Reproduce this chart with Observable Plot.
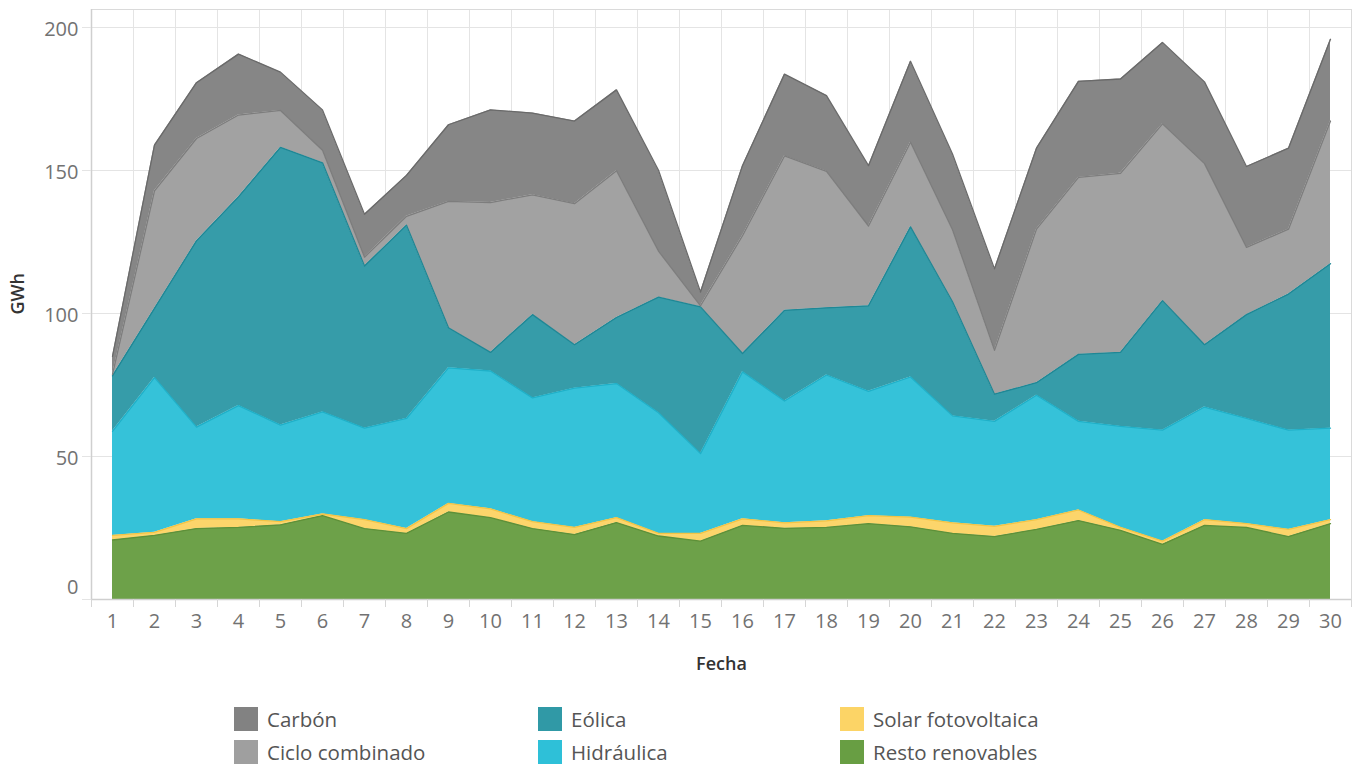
<!DOCTYPE html>
<html>
<head>
<meta charset="utf-8">
<script src="https://cdn.jsdelivr.net/npm/d3@7"></script>
<script src="https://cdn.jsdelivr.net/npm/@observablehq/plot@0.6"></script>
<style>
  html, body { margin: 0; padding: 0; background: #fff; }
  #wrap { position: relative; width: 1358px; height: 765px; font-family: "Open Sans", sans-serif; }
  #legend { position: absolute; left: 234px; top: 707px; display: grid; grid-template-columns: 304px 302px 300px; grid-template-rows: 33px 33px; grid-auto-flow: column; }
  .item { display: flex; align-items: center; height: 24px; font-size: 20.5px; line-height: 1; color: #555; }
  .sw { width: 24px; height: 24px; margin-right: 9px; flex: none; }
</style>
</head>
<body>
<div id="wrap"><div id="chart"></div><div id="legend"></div></div>
<script>
const days = [1,2,3,4,5,6,7,8,9,10,11,12,13,14,15,16,17,18,19,20,21,22,23,24,25,26,27,28,29,30];
const series = ["Resto renovables","Solar fotovoltaica","Hidráulica","Eólica","Ciclo combinado","Carbón"];
const legendOrder = ["Carbón","Ciclo combinado","Eólica","Hidráulica","Solar fotovoltaica","Resto renovables"];
const fills   = ["#689e43","#fcd466","#2ec0d8","#3099a6","#9f9f9f","#828282"];
const strokes = ["#5e9038","#f3c445","#1fb0c8","#1f8795","#7d7d7d","#6a6a6a"];

const resto  = [20.8,22.4,24.8,25.2,26.1,29.3,24.8,23.1,30.6,28.6,24.8,22.7,26.9,22.2,20.4,25.9,24.9,25.2,26.5,25.4,23.1,22.0,24.5,27.6,24.2,19.3,25.9,25.2,22.0,26.5];
const solar  = [1.6,1.1,3.4,3.0,1.1,0.6,3.1,1.7,3.0,3.1,2.4,2.5,1.7,0.9,2.7,2.3,1.9,2.3,2.8,3.4,3.7,3.6,3.4,3.7,1.0,1.1,2.0,1.3,2.5,1.4];
const hidra  = [36.4,54.1,32.1,39.6,33.8,35.7,32.0,38.5,47.4,48.2,43.3,48.7,46.9,42.2,27.9,51.4,42.6,51.0,43.5,49.0,37.4,36.7,43.5,31.0,35.3,38.8,39.4,36.8,34.7,32.0];
const eolica = [19.4,24.2,65.1,73.0,97.1,87.1,56.7,67.6,14.0,6.5,29.1,15.2,23.1,40.4,51.3,6.4,31.7,23.5,29.9,52.5,39.9,9.5,4.4,23.4,25.9,45.3,21.8,36.3,47.6,57.5];
const ciclo  = [0.5,41.1,35.8,28.6,12.9,4.4,3.1,3.1,44.2,52.4,41.9,49.3,51.3,16.1,0.4,41.2,54.0,47.7,27.9,29.6,25.2,15.3,53.7,61.9,62.6,61.8,63.3,23.5,22.7,49.9];
const carbon = [6.3,16.0,19.5,21.3,13.4,14.1,15.0,14.3,26.8,32.4,28.6,28.9,28.3,28.3,4.8,24.5,28.6,26.5,21.1,28.3,26.5,28.5,28.3,33.6,33.0,28.5,28.6,28.3,28.3,28.6];
const yTicks = [0,50,100,150,200];

const values = [resto, solar, hidra, eolica, ciclo, carbon];
const data = [];
series.forEach((s, i) => days.forEach((d, j) => data.push({day: d, series: s, value: values[i][j]})));

const bounds = days.map(d => d - 0.5).concat([days[days.length - 1] + 0.5]);
const inner = bounds.slice(1, -1);
const strokeOf = Object.fromEntries(series.map((s, i) => [s, strokes[i]]));

const font = "Open Sans, sans-serif";
const tickColor = "#727272";
const chart = Plot.plot({
  width: 1358,
  height: 690,
  marginLeft: 91,
  marginRight: 7,
  marginTop: 9,
  marginBottom: 91,
  style: {fontFamily: font, background: "#fff"},
  x: {domain: [0.5, 30.5]},
  y: {domain: [0, 206.3]},
  color: {domain: series, range: fills},
  marks: [
    Plot.gridX(inner, {stroke: "#e4e4e4", strokeOpacity: 1}),
    Plot.gridY(yTicks.slice(1), {stroke: "#e4e4e4", strokeOpacity: 1}),
    Plot.areaY(data, {x: "day", y: "value", fill: "series", z: "series", order: series, fillOpacity: 0.97}),
    Plot.lineY(data, Plot.stackY2({x: "day", y: "value", z: "series", order: series, stroke: d => strokeOf[d.series], strokeWidth: 1.3})),
    Plot.frame({stroke: "#dadada"}),
    Plot.ruleY([0], {stroke: "#cfcfcf", strokeWidth: 1.5}),
    Plot.ruleX([0.5], {stroke: "#cfcfcf", strokeWidth: 1.5}),
    Plot.axisX(bounds, {tickSize: 8, text: null, stroke: "#d6d6d6", label: null}),
    Plot.axisX(days, {tickSize: 0, tickPadding: 14, fontSize: 20, fill: tickColor, label: null}),
    Plot.axisY(yTicks, {tickSize: 9, text: null, stroke: "#e4e4e4", label: null}),
    Plot.axisY(yTicks.slice(1), {tickSize: 9, tickPadding: 4, fontSize: 20, fill: tickColor, stroke: "none", dy: 2, label: null}),
    Plot.axisY([0], {tickSize: 9, tickPadding: 4, fontSize: 20, fill: tickColor, stroke: "none", dy: -12, label: null}),
    Plot.text(["GWh"], {frameAnchor: "left", dx: -73, dy: 10, rotate: -90, fontSize: 18, fontWeight: 600, fill: "#333"}),
    Plot.text(["Fecha"], {frameAnchor: "bottom", dy: 70, fontSize: 18, fontWeight: 600, fill: "#333"})
  ]
});
document.getElementById("chart").appendChild(chart);

const legend = document.getElementById("legend");
legendOrder.forEach(s => {
  const i = series.indexOf(s);
  const item = document.createElement("div");
  item.className = "item";
  item.innerHTML = `<span class="sw" style="background:${fills[i]}"></span><span>${s}</span>`;
  legend.appendChild(item);
});
</script>
</body>
</html>
